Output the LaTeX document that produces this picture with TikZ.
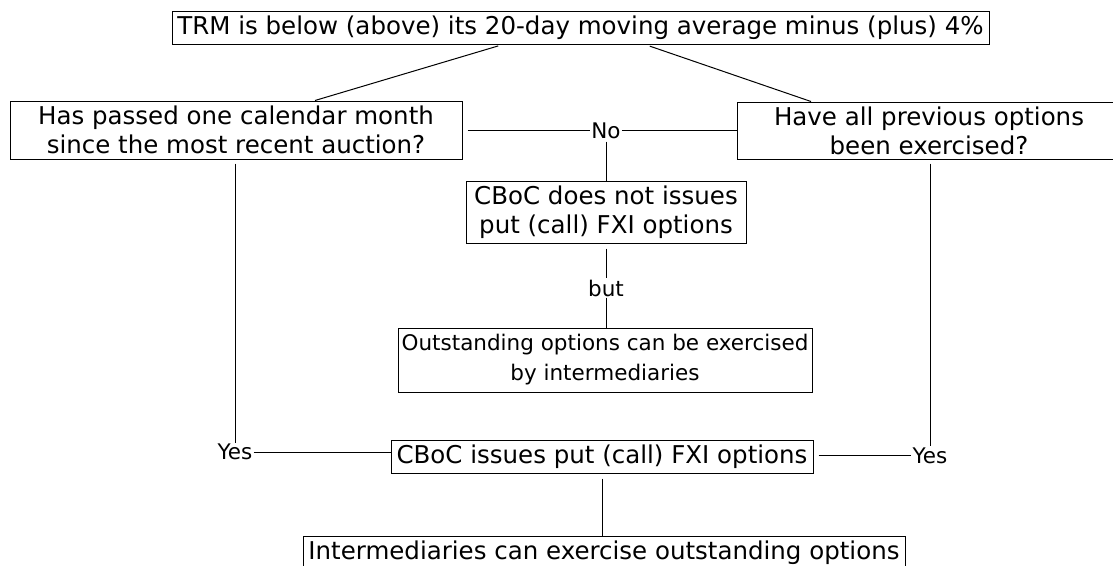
\documentclass[tikz,border=0pt]{standalone}
\usepackage{fontspec}
\setmainfont{DejaVu Sans}
\usepackage{tikz}
\usetikzlibrary{positioning}
\tikzstyle{box}=[draw, line width=1pt, inner sep=0pt, align=center, font=\fontsize{24.5}{29}\selectfont]
\tikzstyle{tag}=[inner sep=1pt, font=\fontsize{21.5}{24}\selectfont]
\newcommand{\boxnode}{\node[box]}
\newcommand{\tagnode}{\node[tag]}

\begin{document}
\begin{tikzpicture}[x=1pt, y=-1pt,
            every edge/.style={draw, line width=1pt}
        ]
            \useasboundingbox (0,0) rectangle (1113,565);

            \boxnode (b1) at (580.5,27.5) [minimum width=817pt, minimum height=33pt]
                {TRM is below (above) its 20-day moving average minus (plus) 4\%};
            \boxnode (b2) at (236,130) [minimum width=452pt, minimum height=58pt]
                {Has passed one calendar month\\since the most recent auction?};
            \boxnode (b3) at (929,130.5) [minimum width=384pt, minimum height=57pt]
                {Have all previous options\\been exercised?};
            \boxnode (b4) at (606,212) [minimum width=280pt, minimum height=62pt]
                {CBoC does not issues\\ put (call) FXI options};
            \boxnode (b5) at (605,360) [minimum width=414pt, minimum height=64pt,
                font=\fontsize{21.5}{30}\selectfont]
                {Outstanding options can be exercised\\by intermediaries};
            \boxnode (b6) at (602,456.5) [minimum width=422pt, minimum height=33pt]
                {CBoC issues put (call) FXI options};
            \boxnode (b7) at (604,552.5) [minimum width=602pt, minimum height=33pt]
                {Intermediaries can exercise outstanding options};

            \tagnode (l1) at (606,130.5) {No};
            \tagnode (l2) at (606,288) {but};
            \tagnode (l3) at (235,452) {Yes};
            \tagnode (l4) at (930,455.5) {Yes};

            \path
                ([xshift=-77.5pt]b1.south) edge[shorten <=5pt] ([xshift=79pt]b2.north)
                ([xshift=64.5pt]b1.south) edge[shorten <=5pt] ([xshift=-118pt]b3.north)

                (b2.east |- l1) edge[shorten <=5pt] (l1)
                (l1) edge (l1 -| b3.west)
                (l1) edge[shorten <=2pt] (l1 |- b4.north)
                (l2 |- b4.south) edge[shorten <=5pt] (l2)
                (l2) edge (l2 |- b5.north)

                (b2.south -| l3) edge[shorten <=4pt] (l3)
                (l3) edge (l3 -| b6.west)
                (b3.south -| l4) edge[shorten <=4pt] (l4)
                (b6.east |- l4) edge[shorten <=5pt] (l4)
                (b6.south) edge[shorten <=5pt] (b6.south |- b7.north)
            ;
        \end{tikzpicture}
\end{document}
